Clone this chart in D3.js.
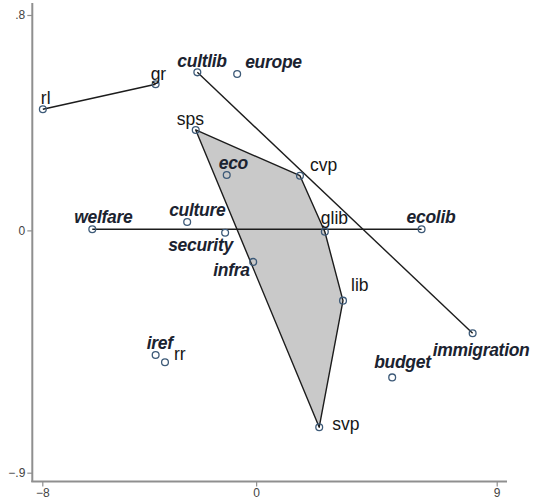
<!DOCTYPE html>
<html>
<head>
<meta charset="utf-8">
<script src="https://cdn.jsdelivr.net/npm/d3@7"></script>
<style>
  html, body { margin: 0; padding: 0; background: #fff; }
  svg { display: block; }
</style>
</head>
<body>
<svg id="chart" width="541" height="499"></svg>
<script>
// ---- data ----
const names = ["rl","gr","cultlib","europe","sps","eco","cvp","welfare","culture","security","infra","glib","ecolib","lib","immigration","budget","svp","iref","rr"];
const xValues = [-7.98,-3.76,-2.20,-0.71,-2.26,-1.10,1.64,-6.13,-2.58,-1.16,-0.11,2.57,6.19,3.25,8.10,5.09,2.36,-3.76,-3.41];
const yValues = [0.450,0.543,0.587,0.581,0.373,0.206,0.203,0.004,0.031,-0.009,-0.117,-0.005,0.004,-0.261,-0.382,-0.546,-0.731,-0.463,-0.490];
const kinds = ["party","party","issue","issue","party","issue","party","issue","issue","issue","issue","party","issue","party","issue","issue","party","issue","party"];
const segments = [["rl","gr"],["cultlib","immigration"],["welfare","ecolib"]];
const hullMembers = ["sps","cvp","glib","lib","svp"];
const xTicks = [-8, 0, 9];
const yTicks = [0.8, 0, -0.9];
const xTickLabels = ["\u22128", "0", "9"];
const yTickLabels = [".8", "0", "\u2212.9"];

// ---- label offsets (style/layout) ----
const labelOffset = {
  rl:[-2,-5], gr:[-5,-4], cultlib:[-20,-5], europe:[8,-6], sps:[-19,-5], eco:[-8,-6],
  cvp:[10,-5], welfare:[-18,-6], culture:[-18,-6], security:[-57,18], infra:[-40,14],
  glib:[-4,-8], ecolib:[-15,-6], lib:[8,-10], immigration:[-40,23], budget:[-18,-9],
  svp:[13,3], iref:[-9,-6], rr:[9,-2]
};

const svg = d3.select("#chart");
const x = d3.scaleLinear().domain([-8, 9]).range([42.3, 496.7]);
const y = d3.scaleLinear().domain([-0.9, 0.8]).range([472.7, 15]);

const pts = names.map((n, i) => ({name: n, x: xValues[i], y: yValues[i], kind: kinds[i]}));
const byName = Object.fromEntries(pts.map(p => [p.name, p]));

// hull polygon
svg.append("polygon")
  .attr("points", hullMembers.map(n => [x(byName[n].x), y(byName[n].y)].join(",")).join(" "))
  .attr("fill", "#c9c9c9")
  .attr("stroke", "#1c1c1c")
  .attr("stroke-width", 1.4)
  .attr("stroke-linejoin", "round");

// segments
svg.append("g").selectAll("line").data(segments).join("line")
  .attr("x1", d => x(byName[d[0]].x)).attr("y1", d => y(byName[d[0]].y))
  .attr("x2", d => x(byName[d[1]].x)).attr("y2", d => y(byName[d[1]].y))
  .attr("stroke", "#1c1c1c").attr("stroke-width", 1.4);

// axes
const axisColor = "#8f8f8f";
const yAxis = d3.axisLeft(y).tickValues(yTicks).tickSize(5).tickFormat((d, i) => yTickLabels[i]);
const gy = svg.append("g").attr("transform", "translate(32.3,0)").call(yAxis);
gy.select(".domain").remove();
gy.append("line").attr("x1", 0).attr("x2", 0).attr("y1", 3).attr("y2", 482).attr("stroke", axisColor).attr("stroke-width", 2);
gy.selectAll(".tick line").attr("stroke", axisColor).attr("stroke-width", 1.2);
gy.selectAll(".tick text").attr("fill", "#444").attr("font-family", "Liberation Sans, Arial, sans-serif").attr("font-size", 12).attr("x", -7);

const xAxis = d3.axisBottom(x).tickValues(xTicks).tickSize(5).tickFormat((d, i) => xTickLabels[i]);
const gx = svg.append("g").attr("transform", "translate(0,481.5)").call(xAxis);
gx.select(".domain").remove();
gx.append("line").attr("x1", 31.3).attr("x2", 507).attr("y1", 0).attr("y2", 0).attr("stroke", axisColor).attr("stroke-width", 2);
gx.selectAll(".tick line").attr("stroke", axisColor).attr("stroke-width", 1.2);
gx.selectAll(".tick text").attr("fill", "#444").attr("font-family", "Liberation Sans, Arial, sans-serif").attr("font-size", 12).attr("y", 6.5);

// points
svg.append("g").selectAll("circle").data(pts).join("circle")
  .attr("cx", d => x(d.x)).attr("cy", d => y(d.y)).attr("r", 3.4)
  .attr("fill", "none").attr("stroke", "#3d5a78").attr("stroke-width", 1.3);

// labels
svg.append("g").selectAll("text").data(pts).join("text")
  .attr("x", d => x(d.x) + labelOffset[d.name][0])
  .attr("y", d => y(d.y) + labelOffset[d.name][1])
  .attr("font-family", "Liberation Sans, Arial, sans-serif")
  .attr("font-size", 17.5)
  .attr("font-style", d => d.kind === "issue" ? "italic" : "normal")
  .attr("font-weight", d => d.kind === "issue" ? "bold" : "normal")
  .attr("letter-spacing", d => d.kind === "issue" ? -0.3 : 0)
  .attr("fill", d => d.kind === "issue" ? "#1b2330" : "#161616")
  .text(d => d.name);
</script>
</body>
</html>
